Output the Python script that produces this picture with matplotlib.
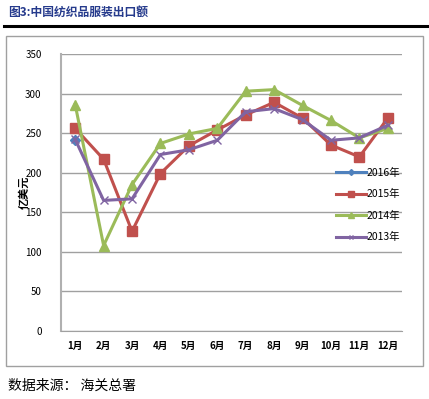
import matplotlib.pyplot as plt
from matplotlib.patches import Rectangle
from matplotlib.lines import Line2D

plt.rcParams['font.family'] = ['Noto Sans CJK SC', 'DejaVu Sans']

months = ["1月", "2月", "3月", "4月", "5月", "6月", "7月", "8月", "9月", "10月", "11月", "12月"]
y2016 = [241]
y2015 = [256, 217, 126, 199, 234, 254, 273, 289, 269, 235, 220, 269]
y2014 = [286, 108, 185, 237, 249, 256, 303, 305, 285, 266, 244, 256]
y2013 = [242, 165, 167, 223, 229, 241, 277, 281, 267, 241, 244, 260]

fig = plt.figure(figsize=(4.29, 3.99), dpi=100)

# title and heavy rule
fig.text(8 / 429, 1 - 12 / 399, "图3:中国纺织品服装出口额", color="#253a8c",
         fontsize=8.5, fontweight="bold", va="center")
fig.add_artist(Line2D([4 / 429, 1], [1 - 26 / 399] * 2, color="black", lw=2.2))
# chart frame
fig.add_artist(Rectangle((6 / 429, 1 - 366 / 399), 417 / 429, 330 / 399,
                         fill=False, edgecolor="#a0a0a0", lw=1))
fig.text(8 / 429, 1 - 386 / 399, "数据来源： 海关总署", fontsize=10, va="center")

ax = fig.add_axes([61 / 429, 1 - 331 / 399, 341 / 429, 277 / 399])
x = list(range(12))
ax.plot(x[:len(y2016)], y2016, color="#4F81BD", lw=2.2, marker="D", ms=5, label="2016年")
ax.plot(x, y2015, color="#C0504D", lw=2.2, marker="s", ms=7, label="2015年")
ax.plot(x, y2014, color="#9BBB59", lw=2.2, marker="^", ms=7, label="2014年")
ax.plot(x, y2013, color="#8064A2", lw=2.2, marker="x", ms=6, mew=1, label="2013年")

ax.set_xlim(-0.5, 11.5)
ax.set_ylim(0, 350)
ax.set_yticks(range(0, 351, 50))
ax.set_xticks(x)
ax.set_xticklabels(months, fontsize=7, fontweight="bold")
for t in ax.get_yticklabels():
    t.set_fontsize(7)
ax.tick_params(length=0, pad=14)
ax.tick_params(axis="x", pad=7)
ax.grid(axis="y", color="#a0a0a0", lw=1)
ax.set_axisbelow(True)
for s in ["top", "right"]:
    ax.spines[s].set_visible(False)
ax.spines["left"].set_color("#b0b0b0")
ax.spines["left"].set_linewidth(1.5)
ax.spines["bottom"].set_color("#a0a0a0")
ax.set_ylabel("亿美元", fontsize=8, fontweight="bold", labelpad=-4)

ax.legend(loc="center left", bbox_to_anchor=(0.78, 0.455), frameon=False,
          fontsize=7.5, handlelength=2.8, handletextpad=0.1, labelspacing=1.1,
          markerscale=0.6)

fig.savefig("out.png", dpi=100)
